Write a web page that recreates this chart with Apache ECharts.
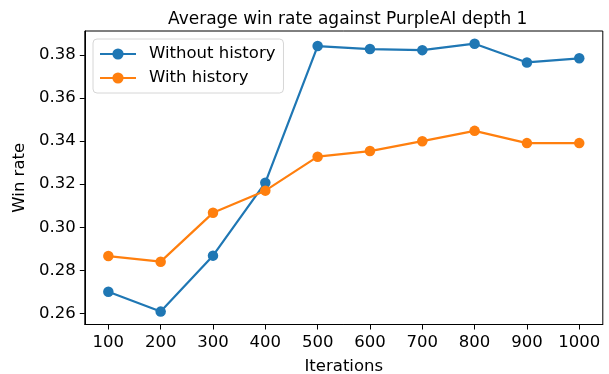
<!DOCTYPE html>
<html>
<head>
<meta charset="utf-8">
<script src="https://cdn.jsdelivr.net/npm/echarts@6/dist/echarts.min.js"></script>
<style>
  html, body { margin: 0; padding: 0; background: #fff; }
  #chart { width: 609px; height: 374px; }
</style>
</head>
<body>
<div id="chart"></div>
<script>
// Training iterations and average win rates against PurpleAI depth 1
const iterations = [100, 200, 300, 400, 500, 600, 700, 800, 900, 1000];
const withoutHistory = [0.2700, 0.2608, 0.2868, 0.3207, 0.3842, 0.3828, 0.3823, 0.3853, 0.3766, 0.3785];
const withHistory = [0.2866, 0.2840, 0.3067, 0.3170, 0.3328, 0.3354, 0.3400, 0.3448, 0.3391, 0.3391];
const yTicks = [0.26, 0.28, 0.30, 0.32, 0.34, 0.36, 0.38];

const FONT = 'DejaVu Sans';
const FS = 16.5;
const chart = echarts.init(document.getElementById('chart'), null, { renderer: 'canvas' });

const pair = (xs, ys) => xs.map((x, i) => [x, ys[i]]);

chart.setOption({
  animation: false,
  backgroundColor: '#ffffff',
  textStyle: { fontFamily: FONT, color: '#000' },
  title: {
    text: 'Average win rate against PurpleAI depth 1',
    left: 163,
    top: 6,
    textStyle: { fontFamily: FONT, fontSize: 17, fontWeight: 'normal', color: '#000' }
  },
  legend: {
    orient: 'vertical',
    left: 93,
    top: 39,
    padding: [6, 8, 6, 6],
    itemWidth: 36,
    itemHeight: 14,
    itemGap: 6,
    backgroundColor: 'rgba(255,255,255,0.8)',
    borderColor: '#d6d6d6',
    borderWidth: 1,
    borderRadius: 4,
    textStyle: { fontFamily: FONT, fontSize: FS, color: '#000', lineHeight: 18, padding: [0, 0, 0, 8] },
    data: ['Without history', 'With history']
  },
  grid: {
    left: 84.8, right: 6.2, top: 31, bottom: 49.5,
    containLabel: false,
    outerBoundsMode: 'none'
  },
  xAxis: {
    type: 'value',
    min: 55,
    max: 1045,
    name: 'Iterations',
    nameLocation: 'middle',
    nameGap: 34,
    nameTextStyle: { fontFamily: FONT, fontSize: FS, color: '#000' },
    splitLine: { show: false },
    axisLine: { show: true, onZero: false, lineStyle: { color: '#000', width: 1 } },
    axisTick: { show: true, inside: false, length: 5, customValues: iterations, lineStyle: { color: '#000' } },
    axisLabel: {
      customValues: iterations,
      margin: 10,
      fontFamily: FONT,
      fontSize: FS,
      color: '#000',
      formatter: v => String(v)
    }
  },
  yAxis: {
    type: 'value',
    min: 0.2548,
    max: 0.3912,
    name: 'Win rate',
    nameLocation: 'middle',
    nameRotate: 90,
    nameGap: 56,
    nameTextStyle: { fontFamily: FONT, fontSize: FS, color: '#000' },
    splitLine: { show: false },
    axisLine: { show: true, onZero: false, lineStyle: { color: '#000', width: 1 } },
    axisTick: { show: true, inside: false, length: 5, customValues: yTicks, lineStyle: { color: '#000' } },
    axisLabel: {
      customValues: yTicks,
      margin: 9,
      fontFamily: FONT,
      fontSize: FS,
      color: '#000',
      formatter: v => v.toFixed(2)
    }
  },
  series: [
    {
      name: 'Without history',
      type: 'line',
      data: pair(iterations, withoutHistory),
      color: '#1f77b4',
      symbol: 'circle',
      symbolSize: 10.5,
      lineStyle: { width: 2.2, color: '#1f77b4' },
      itemStyle: { color: '#1f77b4' },
      z: 3
    },
    {
      name: 'With history',
      type: 'line',
      data: pair(iterations, withHistory),
      color: '#ff7f0e',
      symbol: 'circle',
      symbolSize: 10.5,
      lineStyle: { width: 2.2, color: '#ff7f0e' },
      itemStyle: { color: '#ff7f0e' },
      z: 4
    }
  ]
});

// Closed frame around the plot area (top and right spines)
const gridRect = chart.getModel().getComponent('grid').coordinateSystem.getRect();
chart.setOption({
  graphic: [{
    type: 'rect',
    shape: { x: gridRect.x, y: gridRect.y, width: gridRect.width, height: gridRect.height },
    style: { fill: 'none', stroke: '#000', lineWidth: 1 },
    silent: true,
    z: 0
  }]
});
</script>
</body>
</html>
